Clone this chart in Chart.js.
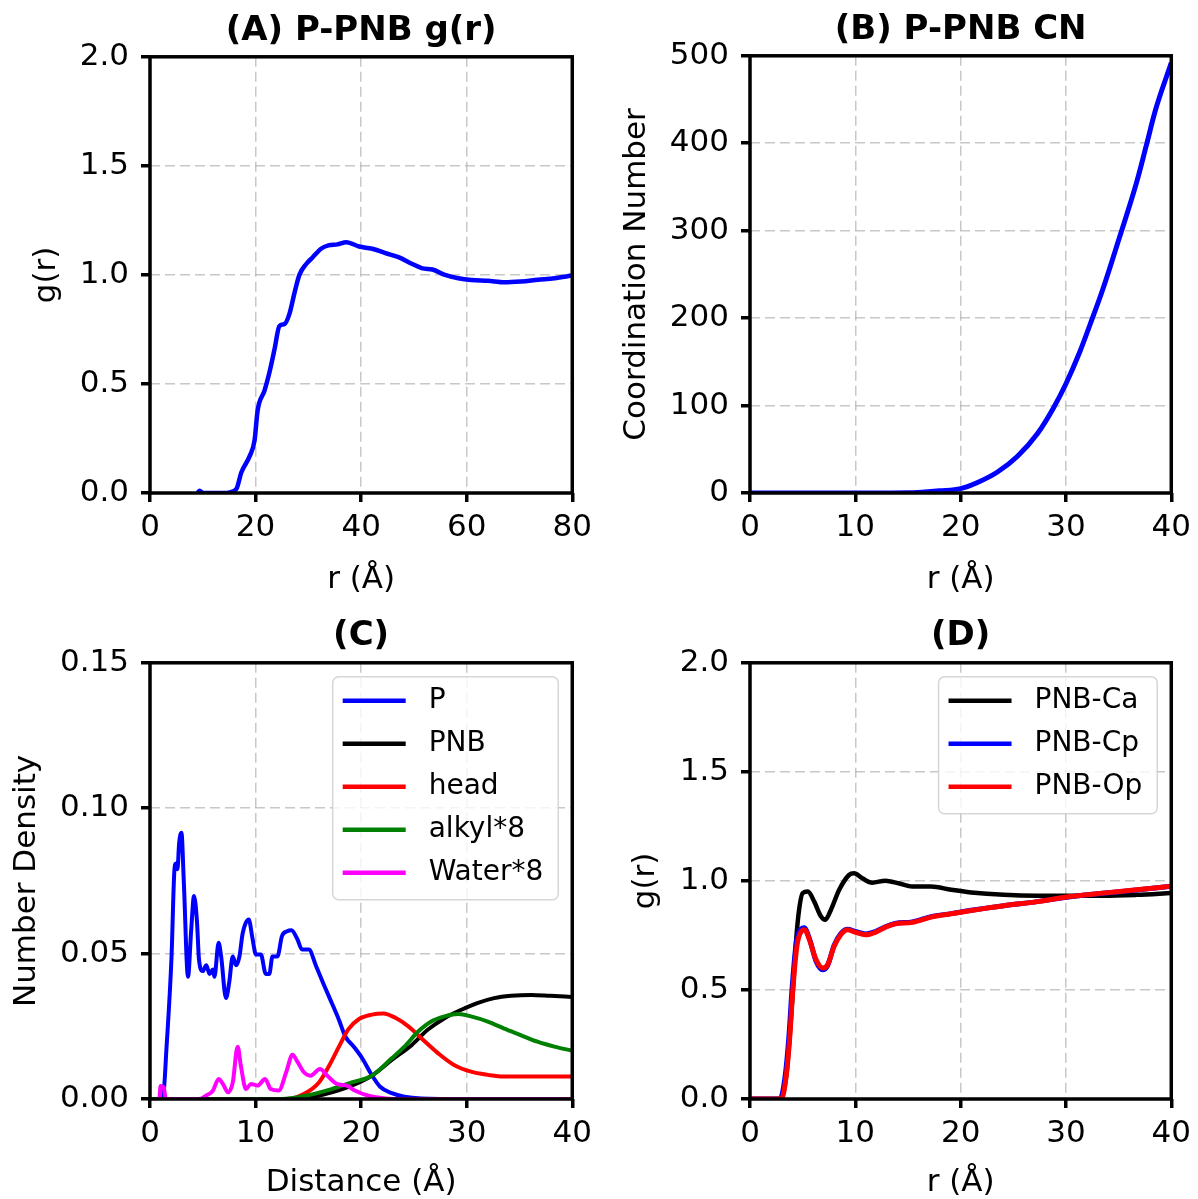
<!DOCTYPE html>
<html>
<head>
<meta charset="utf-8">
<script src="https://cdn.jsdelivr.net/npm/chart.js@4.4.1/dist/chart.umd.min.js"></script>
<style>
  html, body { margin: 0; padding: 0; background: #fff; }
  #wrap { position: relative; width: 1198px; height: 1199px; }
  canvas { position: absolute; }
</style>
</head>
<body>
<div id="wrap">
  <canvas id="panelA" width="599" height="600" style="left:0;top:0"></canvas>
  <canvas id="panelB" width="599" height="600" style="left:599px;top:0"></canvas>
  <canvas id="panelC" width="599" height="599" style="left:0;top:600px"></canvas>
  <canvas id="panelD" width="599" height="599" style="left:599px;top:600px"></canvas>
</div>
<script>
// === DATEN (r in Å, Wert) ===
// (A) P-PNB g(r)
const grPPNB = [[9, 0], [9.4, 0.01], [10, 0], [12, 0], [14, 0], [15.1, 0.003], [16.4, 0.02], [17.3, 0.094],
  [18.9, 0.17], [19.8, 0.24], [20.4, 0.38], [21.7, 0.47], [22.6, 0.55], [23.6, 0.66], [24.5, 0.765],
  [25.5, 0.775], [26.4, 0.82], [27.4, 0.92], [28.3, 1.0], [29.6, 1.05], [30.8, 1.08], [32.4, 1.12],
  [33.8, 1.135], [35.5, 1.14], [37.2, 1.15], [39.6, 1.13], [42.1, 1.12], [44.6, 1.10], [47.2, 1.08],
  [49.7, 1.05], [51.6, 1.03], [53.5, 1.025], [55.9, 1.0], [58.4, 0.985], [60.9, 0.977], [64.0, 0.973],
  [67.2, 0.966], [70.3, 0.97], [73.5, 0.978], [76.6, 0.985], [80, 0.997]];

// (B) P-PNB CN
const cnPPNB = [[0, 0], [10, 0], [15, 0.3], [16.3, 1], [18, 2.5], [20, 5], [21.6, 12], [23.5, 24],
  [25.4, 42], [27.3, 68], [28.8, 97], [30, 125], [31.3, 161], [32.3, 193], [33.5, 233], [35.1, 293],
  [36.7, 355], [37.6, 396], [38.5, 438], [40, 492]];

// (C) Number Density
const densP = [[0, 0], [1.0, 0], [1.25, 0.001], [1.57, 0.018], [2.04, 0.049], [2.3, 0.078], [2.45, 0.081],
  [2.6, 0.079], [2.76, 0.088], [2.98, 0.0916], [3.2, 0.075], [3.6, 0.042], [3.9, 0.058], [4.17, 0.0698],
  [4.45, 0.061], [4.64, 0.048], [5.0, 0.044], [5.33, 0.046], [5.64, 0.043], [5.96, 0.0445], [6.1, 0.042],
  [6.5, 0.0537], [6.74, 0.049], [7.2, 0.0347], [7.5, 0.040], [7.84, 0.049], [8.15, 0.046], [8.47, 0.049],
  [8.78, 0.057], [9.35, 0.0617], [9.72, 0.055], [10.03, 0.0497], [10.5, 0.0497], [10.97, 0.043],
  [11.3, 0.043], [11.6, 0.049], [12.07, 0.049], [12.5, 0.056], [13.0, 0.0577], [13.4, 0.058],
  [13.95, 0.055], [14.4, 0.0514], [15.05, 0.0514], [15.7, 0.046], [16.5, 0.039], [17.1, 0.034],
  [17.9, 0.0272], [18.5, 0.0215], [19.3, 0.018], [20.1, 0.014], [21.0, 0.0083], [21.8, 0.0042],
  [22.9, 0.002], [24.1, 0.0008], [25.7, 0.0002], [30, 0], [40, 0]];
const densPNB = [[0, 0], [14.1, 0], [16.6, 0.0017], [19.1, 0.0046], [21.0, 0.008], [22.9, 0.0134],
  [24.8, 0.0186], [26.3, 0.0238], [27.9, 0.0278], [29.5, 0.0307], [31.0, 0.033], [32.6, 0.0347],
  [34.2, 0.0355], [36.1, 0.0358], [37.9, 0.0355], [40, 0.0351]];
const densHead = [[0, 0], [12.9, 0], [14.7, 0.002], [16.0, 0.0057], [16.9, 0.011], [17.9, 0.018],
  [18.8, 0.024], [19.8, 0.0275], [21.0, 0.029], [22.1, 0.0294], [23.2, 0.028], [24.5, 0.0249],
  [25.7, 0.0209], [27.3, 0.0157], [28.8, 0.0117], [30.4, 0.0094], [32.0, 0.0083], [33.5, 0.0077],
  [36.7, 0.0077], [40, 0.0077]];
const densAlkyl = [[0, 0], [12.5, 0], [14.7, 0.0011], [17.2, 0.0034], [19.1, 0.0057], [21.0, 0.008],
  [22.9, 0.014], [24.1, 0.018], [25.4, 0.0232], [26.6, 0.0266], [27.9, 0.0284], [29.2, 0.0292],
  [30.4, 0.0284], [32.0, 0.0266], [33.5, 0.0243], [35.1, 0.022], [36.7, 0.0197], [38.3, 0.018],
  [40, 0.0166]];
const densWater = [[0.9, 0], [1.0, 0.0045], [1.3, 0.004], [1.5, 0], [4.7, 0], [5.3, 0.0011], [5.96, 0.0029],
  [6.5, 0.0069], [6.9, 0.0052], [7.4, 0.0023], [7.84, 0.0057], [8.3, 0.018], [8.62, 0.0111], [9.09, 0.0034],
  [9.56, 0.0052], [10.2, 0.0046], [10.9, 0.0069], [11.44, 0.0034], [12.2, 0.0029], [12.9, 0.0092],
  [13.5, 0.0152], [13.95, 0.0129], [14.58, 0.0092], [15.2, 0.008], [16.1, 0.0103], [16.8, 0.008],
  [17.7, 0.0052], [18.65, 0.0046], [19.4, 0.0029], [20.7, 0.0011], [22.3, 0.0002], [24.1, 0], [40, 0]];

// (D) PNB g(r)
const grCa = [[0, 0], [2.9, 0], [3.45, 0.11], [3.76, 0.28], [4.1, 0.52], [4.4, 0.74], [4.64, 0.86],
  [5.0, 0.944], [5.49, 0.951], [6.1, 0.905], [6.74, 0.837], [7.15, 0.822], [7.68, 0.867], [8.47, 0.959],
  [9.4, 1.027], [9.88, 1.035], [10.66, 1.012], [11.6, 0.992], [12.86, 1.001], [14.1, 0.989], [15.4, 0.974],
  [17.2, 0.974], [19.1, 0.959], [21.0, 0.947], [24.1, 0.936], [27.3, 0.932], [30.4, 0.932], [33.5, 0.932],
  [36.7, 0.936], [40, 0.944]];
const grCp = [[0, 0], [2.85, 0], [3.35, 0.11], [3.7, 0.29], [4.0, 0.51], [4.4, 0.72], [4.85, 0.78],
  [5.15, 0.785], [5.64, 0.735], [6.27, 0.632], [6.9, 0.593], [7.37, 0.612], [7.99, 0.705], [8.62, 0.758],
  [9.25, 0.778], [10.03, 0.768], [10.97, 0.757], [11.9, 0.767], [12.86, 0.79], [13.8, 0.805], [15.4, 0.812],
  [17.2, 0.836], [19.1, 0.85], [21.0, 0.865], [24.1, 0.886], [27.3, 0.905], [30.4, 0.927], [33.5, 0.943],
  [36.7, 0.958], [40, 0.975]];
const grOp = [[0, 0], [2.98, 0], [3.45, 0.11], [3.76, 0.274], [4.07, 0.502], [4.45, 0.70], [4.86, 0.768],
  [5.17, 0.776], [5.64, 0.731], [6.27, 0.639], [6.9, 0.601], [7.37, 0.616], [7.99, 0.70], [8.62, 0.753],
  [9.25, 0.776], [10.03, 0.764], [10.97, 0.753], [11.9, 0.764], [12.86, 0.788], [13.8, 0.803], [15.4, 0.81],
  [17.2, 0.834], [19.1, 0.849], [21.0, 0.864], [24.1, 0.886], [27.3, 0.905], [30.4, 0.928], [33.5, 0.944],
  [36.7, 0.959], [40, 0.976]];

// === KONSTANTEN ===
const FONT = "'DejaVu Sans', sans-serif";
const COLORS = { BLUE: '#0000ff', BLACK: '#000000', RED: '#ff0000', GREEN: '#008000', MAGENTA: '#ff00ff' };
const GRID = {
    color: 'rgba(176,176,176,0.7)', lineWidth: 1.5,
    tickColor: '#000', tickLength: 9, tickWidth: 3.5, tickBorderDash: []
};
// in v4 steuert border.dash die Strichelung der Gitterlinien
const BORDER = { display: false, dash: [10, 5] };

Chart.defaults.font.family = FONT;
Chart.defaults.color = '#000';

// Rahmen um den Plotbereich (alle vier Seiten)
const frame = {
    id: 'frame',
    afterDatasetsDraw(chart) {
        const { ctx, chartArea: a } = chart;
        ctx.save();
        ctx.strokeStyle = '#000';
        ctx.lineWidth = 3.5;
        ctx.strokeRect(a.left, a.top, a.right - a.left, a.bottom - a.top);
        ctx.restore();
    }
};

// Legende oben rechts im Plotbereich
const boxLegend = {
    id: 'boxLegend',
    afterDraw(chart, args, opts) {
        if (!opts.show) return;
        const { ctx, chartArea: a } = chart;
        const sets = chart.data.datasets;
        ctx.save();
        ctx.font = `${opts.size}px ${FONT}`;
        const tw = Math.max(...sets.map(d => ctx.measureText(d.label).width));
        const w = 96 + tw + 15, h = sets.length * 43 + 8;
        const x = a.right - 14 - w, y = a.top + 14;
        ctx.beginPath();
        ctx.roundRect(x, y, w, h, 6);
        ctx.fillStyle = 'rgba(255,255,255,0.8)';
        ctx.fill();
        ctx.strokeStyle = 'rgba(204,204,204,0.8)';
        ctx.lineWidth = 1.5;
        ctx.stroke();
        sets.forEach((d, i) => {
            const cy = y + 24 + i * 43;
            ctx.strokeStyle = d.borderColor;
            ctx.lineWidth = 4.5;
            ctx.beginPath();
            ctx.moveTo(x + 10, cy);
            ctx.lineTo(x + 73, cy);
            ctx.stroke();
            ctx.fillStyle = '#000';
            ctx.textBaseline = 'middle';
            ctx.fillText(d.label, x + 96, cy);
        });
        ctx.restore();
    }
};

function makePanel(canvasId, cfg) {
    const tickFont = { family: FONT, size: 31 };
    const n = cfg.series.length;
    return new Chart(document.getElementById(canvasId), {
        type: 'line',
        data: {
            datasets: cfg.series.map((s, i) => ({
                label: s.label,
                data: s.pts.map(([x, y]) => ({ x, y })),
                borderColor: s.color,
                borderWidth: s.width || 4.5,
                pointRadius: 0,
                cubicInterpolationMode: 'monotone',
                fill: false,
                order: n - 1 - i   // letzte Serie oben, wie in matplotlib
            }))
        },
        options: {
            responsive: false,
            animation: false,
            layout: { padding: { right: cfg.padRight, top: 0, left: 0, bottom: 0 } },
            plugins: {
                legend: { display: false },
                tooltip: { enabled: false },
                title: {
                    display: true, text: cfg.title, fullSize: false, color: '#000',
                    font: { family: FONT, size: 34, weight: 'bold' },
                    padding: { top: cfg.titleTop, bottom: cfg.titleBottom }
                },
                boxLegend: { show: !!cfg.legend, size: 28 }
            },
            scales: {
                x: {
                    type: 'linear', min: 0, max: cfg.xMax,
                    ticks: { stepSize: cfg.xStep, font: tickFont, color: '#000', padding: 7, maxRotation: 0 },
                    grid: GRID,
                    border: BORDER,
                    title: { display: true, text: cfg.xTitle, font: tickFont, color: '#000',
                             padding: { top: 0, bottom: cfg.xTitlePad } },
                    afterFit: s => { s.height = cfg.xHeight; }
                },
                y: {
                    type: 'linear', min: 0, max: cfg.yMax,
                    ticks: { stepSize: cfg.yStep, font: tickFont, color: '#000', padding: 12,
                             callback: v => v.toFixed(cfg.yDec) },
                    grid: GRID,
                    border: BORDER,
                    title: { display: true, text: cfg.yTitle, font: tickFont, color: '#000',
                             padding: { top: cfg.yTitlePad, bottom: 0 } },
                    afterFit: s => { s.width = cfg.yWidth; }
                }
            }
        },
        plugins: [frame, boxLegend]
    });
}

makePanel('panelA', {
    title: '(A) P-PNB g(r)', titleTop: 11, titleBottom: 5,
    xMax: 80, xStep: 20, xTitle: 'r (Å)', xHeight: 107, xTitlePad: 1,
    yMax: 2, yStep: 0.5, yDec: 1, yTitle: 'g(r)', yWidth: 150, yTitlePad: 28,
    padRight: 25,
    series: [{ label: 'P-PNB', pts: grPPNB, color: COLORS.BLUE, width: 4.5 }]
});

makePanel('panelB', {
    title: '(B) P-PNB CN', titleTop: 10, titleBottom: 5,
    xMax: 40, xStep: 10, xTitle: 'r (Å)', xHeight: 107, xTitlePad: 1,
    yMax: 500, yStep: 100, yDec: 0, yTitle: 'Coordination Number', yWidth: 151, yTitlePad: 19,
    padRight: 24,
    series: [{ label: 'CN', pts: cnPPNB, color: COLORS.BLUE, width: 5 }]
});

makePanel('panelC', {
    title: '(C)', titleTop: 16, titleBottom: 6,
    xMax: 40, xStep: 10, xTitle: 'Distance (Å)', xHeight: 100, xTitlePad: -3,
    yMax: 0.15, yStep: 0.05, yDec: 2, yTitle: 'Number Density', yWidth: 150, yTitlePad: 8,
    padRight: 25, legend: true,
    series: [
        { label: 'P', pts: densP, color: COLORS.BLUE, width: 4 },
        { label: 'PNB', pts: densPNB, color: COLORS.BLACK, width: 4 },
        { label: 'head', pts: densHead, color: COLORS.RED, width: 4 },
        { label: 'alkyl*8', pts: densAlkyl, color: COLORS.GREEN, width: 4 },
        { label: 'Water*8', pts: densWater, color: COLORS.MAGENTA, width: 4 }
    ]
});

makePanel('panelD', {
    title: '(D)', titleTop: 16, titleBottom: 6,
    xMax: 40, xStep: 10, xTitle: 'r (Å)', xHeight: 100, xTitlePad: -3,
    yMax: 2, yStep: 0.5, yDec: 1, yTitle: 'g(r)', yWidth: 151, yTitlePad: 28,
    padRight: 24, legend: true,
    series: [
        { label: 'PNB-Ca', pts: grCa, color: COLORS.BLACK, width: 4.5 },
        { label: 'PNB-Cp', pts: grCp, color: COLORS.BLUE, width: 5 },
        { label: 'PNB-Op', pts: grOp, color: COLORS.RED, width: 5 }
    ]
});
</script>
</body>
</html>
